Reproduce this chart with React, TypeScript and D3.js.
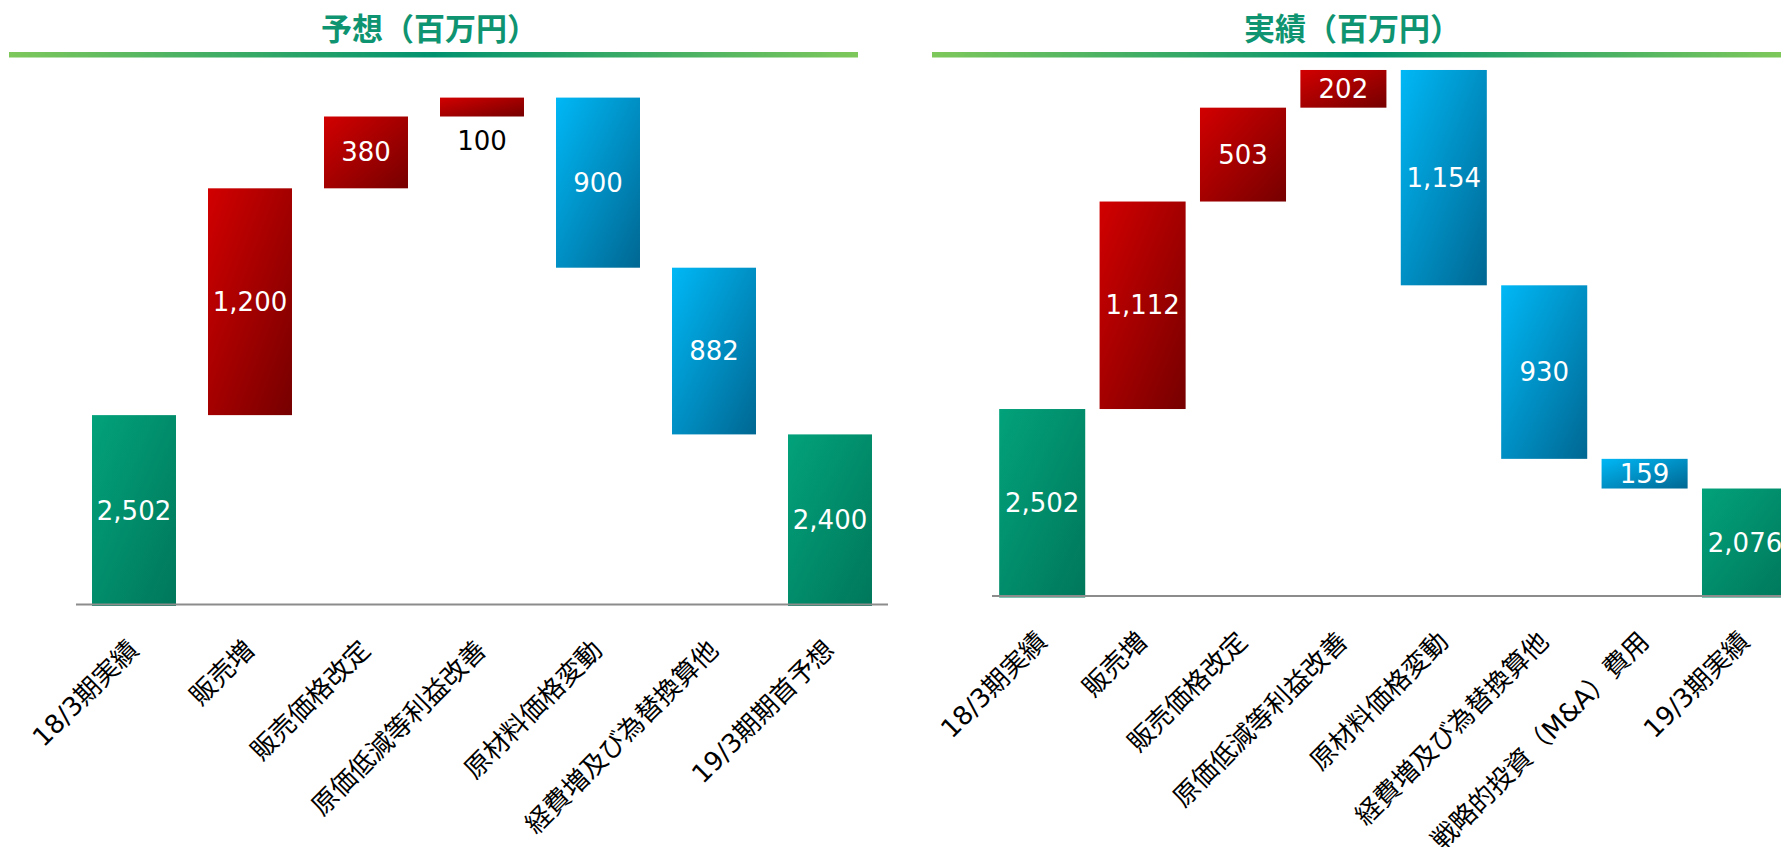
import React from "react";
import * as d3 from "d3";

const forecastTitle = "予想（百万円）";
const forecastCategories = [
  "18/3期実績",
  "販売増",
  "販売価格改定",
  "原価低減等利益改善",
  "原材料価格変動",
  "経費増及び為替換算他",
  "19/3期期首予想",
];
const forecastValues = [2502, 1200, 380, 100, -900, -882, 2400];
const forecastKinds = ["total", "up", "up", "up", "down", "down", "total"];

const actualTitle = "実績（百万円）";
const actualCategories = [
  "18/3期実績",
  "販売増",
  "販売価格改定",
  "原価低減等利益改善",
  "原材料価格変動",
  "経費増及び為替換算他",
  "戦略的投資（M&A）費用",
  "19/3期実績",
];
const actualValues = [2502, 1112, 503, 202, -1154, -930, -159, 2076];
const actualKinds = ["total", "up", "up", "up", "down", "down", "down", "total"];

const yMin = 1500;

type Seg = { cat: string; value: number; kind: string; start: number; end: number };

function buildSegs(cats: string[], vals: number[], kinds: string[]): Seg[] {
  let running = 0;
  return cats.map((c, i) => {
    const k = kinds[i];
    const v = vals[i];
    if (k === "total") {
      running = v;
      return { cat: c, value: v, kind: k, start: yMin, end: v };
    }
    const s = running;
    running = running + v;
    return { cat: c, value: v, kind: k, start: s, end: running };
  });
}

const fmt = d3.format(",");
const LABEL_FONT = "'DejaVu Sans', 'Noto Sans CJK JP', sans-serif";
const CJK_FONT = "'Noto Sans CJK JP', 'DejaVu Sans', sans-serif";

type PanelProps = {
  id: string;
  title: string;
  cats: string[];
  vals: number[];
  kinds: string[];
  lineX0: number;
  lineX1: number;
  xRange: [number, number];
  pad: number;
  yDomainMax: number;
  yRange: [number, number];
  axisX1: number;
};

function Panel(p: PanelProps) {
  const segs = buildSegs(p.cats, p.vals, p.kinds);
  const x = d3
    .scaleBand<string>()
    .domain(p.cats)
    .range(p.xRange)
    .paddingInner(p.pad)
    .paddingOuter(p.pad / 2);
  const y = d3.scaleLinear().domain([yMin, p.yDomainMax]).range(p.yRange);
  const axisY = y(yMin);
  const bw = x.bandwidth();
  const fillFor = (k: string) =>
    k === "total" ? "url(#gGreen)" : k === "up" ? "url(#gRed)" : "url(#gBlue)";
  const lineMid = (p.lineX0 + p.lineX1) / 2;
  return (
    <g>
      <text
        x={lineMid - 4}
        y={40}
        textAnchor="middle"
        fontFamily={CJK_FONT}
        fontWeight={700}
        fontSize={31}
        fill="#0e9470"
      >
        {p.title}
      </text>
      <rect x={p.lineX0} y={52} width={p.lineX1 - p.lineX0} height={5.5} fill={`url(#gLine${p.id})`} />
      {segs.map((s, i) => {
        const x0 = x(s.cat)!;
        const yTop = Math.min(y(s.start), y(s.end));
        const yBot = Math.max(y(s.start), y(s.end)) + (s.kind === "total" ? 1.5 : 0);
        const h = yBot - yTop;
        const cx = x0 + bw / 2;
        const small = h < 25;
        return (
          <g key={i}>
            <rect x={x0} y={yTop} width={bw} height={h} fill={fillFor(s.kind)} />
            <text
              x={cx}
              y={small ? yBot + 24 : (yTop + yBot) / 2}
              textAnchor="middle"
              dominantBaseline="central"
              fontFamily={LABEL_FONT}
              fontSize={26}
              fill={small ? "#000" : "#fff"}
            >
              {fmt(Math.abs(s.value))}
            </text>
          </g>
        );
      })}
      <line x1={p.xRange[0]} x2={p.axisX1} y1={axisY} y2={axisY} stroke="#8c8c8c" strokeWidth={2} />
      {segs.map((s, i) => {
        const cx = x(s.cat)! + bw / 2;
        return (
          <text
            key={"l" + i}
            transform={`translate(${cx + 6},${axisY + 47}) rotate(-45)`}
            textAnchor="end"
            fontFamily={LABEL_FONT}
            fontSize={26}
            fill="#000"
          >
            {s.cat}
          </text>
        );
      })}
    </g>
  );
}

export default function App() {
  return (
    <svg
      width={1781}
      height={847}
      style={{ position: "absolute", left: 0, top: 0, background: "#fff" }}
    >
      <defs>
        <linearGradient id="gGreen" x1="0" y1="0" x2="1" y2="1">
          <stop offset="0" stopColor="#02a27b" />
          <stop offset="1" stopColor="#00775a" />
        </linearGradient>
        <linearGradient id="gRed" x1="0" y1="0" x2="1" y2="1">
          <stop offset="0" stopColor="#d20000" />
          <stop offset="1" stopColor="#760000" />
        </linearGradient>
        <linearGradient id="gBlue" x1="0" y1="0" x2="1" y2="1">
          <stop offset="0" stopColor="#00b8f6" />
          <stop offset="1" stopColor="#006792" />
        </linearGradient>
        {["L", "R"].map((id) => (
          <linearGradient key={id} id={`gLine${id}`} x1="0" y1="0" x2="1" y2="0">
            <stop offset="0" stopColor="#7ec85b" />
            <stop offset="0.5" stopColor="#00926f" />
            <stop offset="1" stopColor="#7ec85b" />
          </linearGradient>
        ))}
      </defs>
      <Panel
        id="L"
        title={forecastTitle}
        cats={forecastCategories}
        vals={forecastValues}
        kinds={forecastKinds}
        lineX0={9}
        lineX1={858}
        xRange={[76, 888]}
        pad={0.276}
        yDomainMax={4200}
        yRange={[604.5, 604.5 - 2700 * 0.189]}
        axisX1={888}
      />
      <Panel
        id="R"
        title={actualTitle}
        cats={actualCategories}
        vals={actualValues}
        kinds={actualKinds}
        lineX0={932}
        lineX1={1781}
        xRange={[992, 992 + 8 * 100.4]}
        pad={0.143}
        yDomainMax={4400}
        yRange={[596, 596 - 2900 * 0.1866]}
        axisX1={1781}
      />
    </svg>
  );
}
